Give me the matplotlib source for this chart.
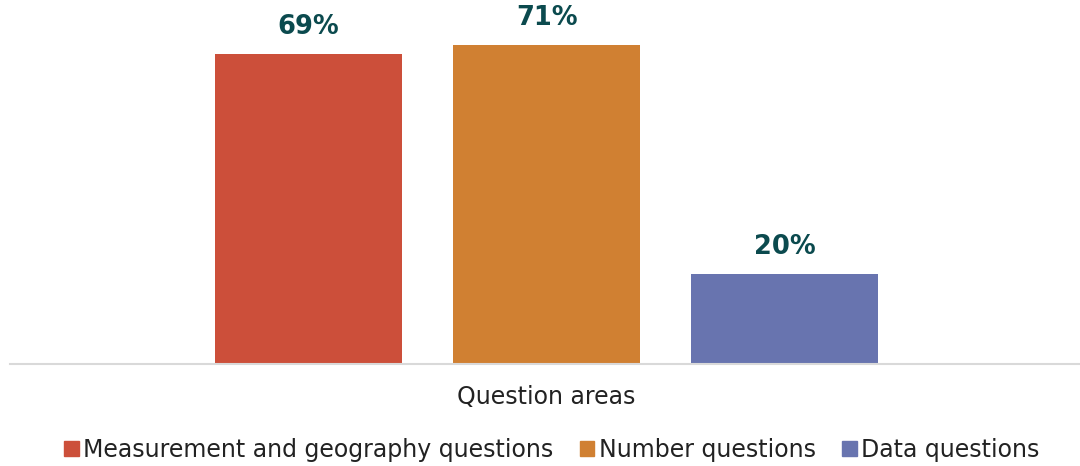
import matplotlib
matplotlib.use("Agg")
import matplotlib.pyplot as plt
from matplotlib.patches import Patch

# === DATOS ===
series = ["Measurement and geography questions", "Number questions", "Data questions"]
values = [69, 71, 20]
colors = ["#CC4F3A", "#D08032", "#6874AF"]
category = "Question areas"

plt.rcParams["font.family"] = ["DejaVu Sans"]

fig = plt.figure(figsize=(10.8, 4.66), dpi=100)
# ejes en píxeles: izquierda 10, derecha 1080, base 364, arriba 4
ax = fig.add_axes([10 / 1080, 1 - 364 / 466, 1070 / 1080, 360 / 466])

pos = list(range(len(values)))
bars = ax.bar(pos, values, width=0.786, color=colors, zorder=2)

for b, v in zip(bars, values):
    ax.text(b.get_x() + b.get_width() / 2, v + 5.9, f"{v}%",
            ha="center", va="center", fontsize=18.5, fontweight="bold",
            color="#0B4A4E")

ax.set_xlim(-1.254, 3.24)
ax.set_ylim(0, 80)

for s in ["top", "right", "left"]:
    ax.spines[s].set_visible(False)
ax.spines["bottom"].set_color("#D9D9D9")
ax.spines["bottom"].set_linewidth(1.5)
ax.set_yticks([])
ax.set_xticks([1])
ax.set_xticklabels([category], fontsize=17, color="#222222")
ax.tick_params(axis="x", length=0, pad=15)

handles = [Patch(color=c, label=s) for c, s in zip(colors, series)]
fig.legend(handles=handles, loc="center", bbox_to_anchor=(0.511, 1 - 450 / 466),
           ncol=3, frameon=False, fontsize=17, handlelength=0.62, handleheight=0.62,
           handletextpad=0.2, columnspacing=1.1, labelcolor="#222222")

fig.savefig("out.png", dpi=100)
